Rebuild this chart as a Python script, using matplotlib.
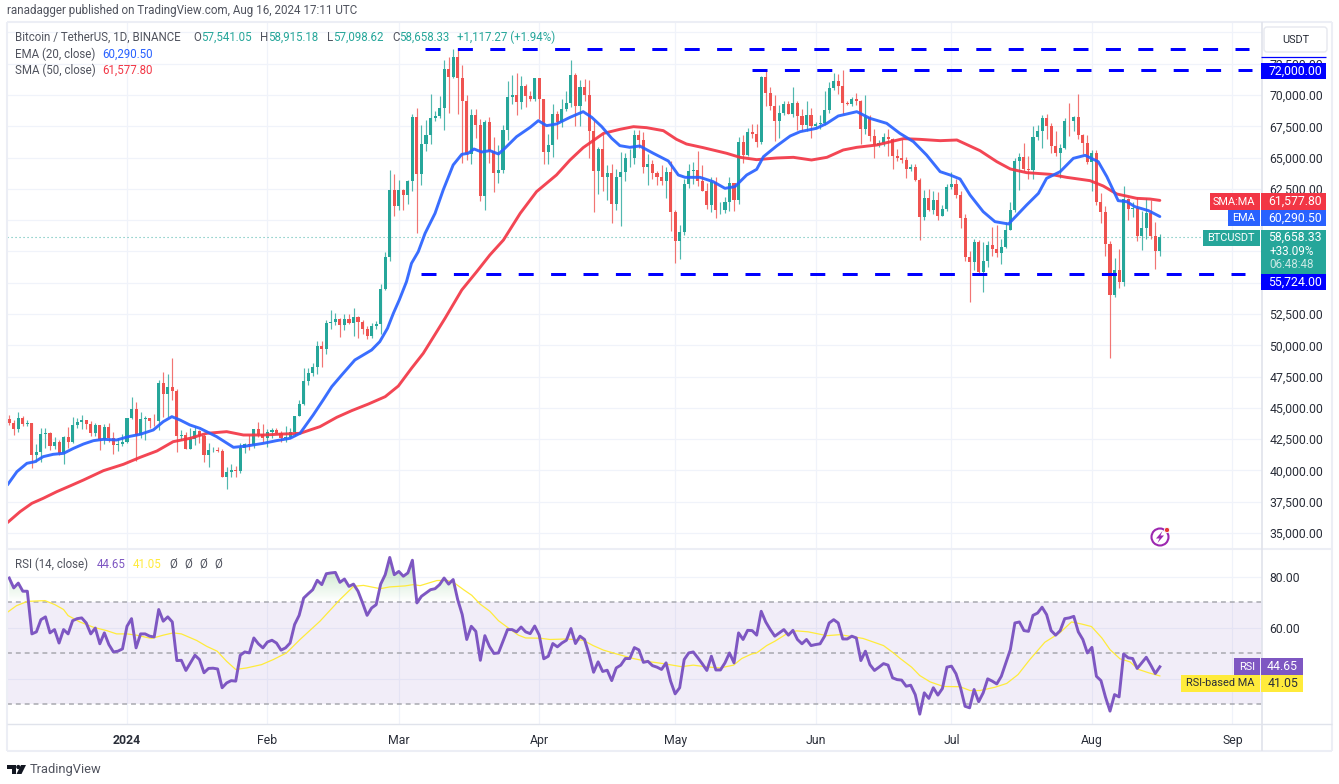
import numpy as np
import pandas as pd
import matplotlib
matplotlib.use("Agg")
import matplotlib.pyplot as plt
from matplotlib.patches import Rectangle, FancyBboxPatch, Circle, Polygon
from matplotlib.path import Path
from matplotlib.collections import LineCollection

plt.rcParams['font.family'] = ['Roboto', 'DejaVu Sans']

# ---------- candle data ----------
first_open = 44080
closes = [
 43790,43292,44183,43720,43792,41243,41450,42890,43022,41940,42278,41374,42657,42271,43652,43868,43997,43739,43016,43613,42520,43442,42581,42066,42140,42283,
 44179,44946,42845,44151,44162,43958,43929,46951,46110,46632,46339,42782,42847,41732,42511,43137,42776,41262,41618,41665,41545,39507,39845,40077,39933,41816,42120,42031,43300,42941,42580,
 43082,43200,42991,42583,42658,43084,44346,45288,47132,47751,48293,49958,49699,51795,51880,52124,51642,52137,51774,52259,51849,51288,50744,51568,51728,54476,57037,62432,61130,
 62387,61987,63113,68245,63724,66074,66823,68124,68313,68955,72051,71452,73072,71388,69499,65300,68393,67609,61937,67840,65501,63796,64037,67211,69880,69988,69455,70744,69892,69645,71333,
 69702,65446,65980,68508,67837,68896,69360,71620,69146,70631,70006,67116,63924,65661,63419,63793,61277,63470,63818,64941,64941,66819,66407,64276,64481,63756,63419,63113,63841,60672,
 58364,59060,62882,63892,64012,63165,62312,61193,63074,60799,60825,61484,62940,61577,66206,65235,67024,66915,66274,71446,70136,69122,67929,68526,69265,68518,69394,68296,67578,68364,67491,
 67706,67751,68804,70567,71082,70757,69342,69305,69648,69508,67321,68243,66747,66006,66191,66639,66490,65140,64960,64828,64096,64245,63180,60277,61781,60824,61612,60320,60887,62678,
 62851,62029,60145,57042,56639,58230,55857,56710,58045,57717,57337,57889,59204,60797,64724,65043,64087,63987,66660,67139,68165,67532,65936,65372,65777,67907,67896,68249,66784,66188,64628,
 65354,61415,60680,58116,53991,56030,55027,61710,60880,60945,58719,59354,60609,58739,57541,58658]
highs = [
 44440,44040,44700,44370,44040,43800,42100,43430,43420,43089,42700,42430,42750,43500,44283,44230,44400,43800,43950,43800,43650,43700,43800,43100,42600,42890,
 44180,45880,45500,44700,44330,44230,44500,47250,47890,47700,48970,46500,43250,43060,43400,43580,43200,42930,42200,41870,41880,41680,40280,40550,40350,42200,42200,42840,43300,43880,43740,
 43300,43420,43380,43120,43530,43400,44390,45600,48200,48170,48590,50330,50370,52040,52820,52570,52170,52480,52500,52980,52370,52020,51550,51820,51950,54900,57490,63980,63680,
 63180,62450,63230,68500,69000,67640,67990,70080,68700,69900,72800,73000,73650,73777,72420,70000,68900,68920,68100,68030,68240,66650,65970,67620,71150,71560,71770,71550,70900,70320,71370,
 71340,69700,66920,69300,68720,69680,70320,72800,71760,71170,71280,71200,68000,65840,66870,64370,64470,64100,65480,65400,65700,67230,67200,67050,65300,64800,63920,64370,64230,64700,
 60780,59600,63320,64500,64650,65500,64400,62990,63450,63450,61490,61820,63450,63000,66670,66800,67400,67700,67700,71500,71979,70630,70000,69220,69560,69500,70600,69560,68900,69500,69000,
 67840,68440,70280,71060,71760,71650,71997,69560,69850,70150,69570,69990,68440,67300,66400,67000,67300,66560,65720,66480,65060,64520,64500,63370,62400,62480,62300,62220,61200,62900,
 63860,63270,62300,60500,57500,58500,58400,58240,58300,59470,59650,58500,59820,61420,65000,65400,66130,65100,67500,67620,68370,68490,67800,67100,66100,68200,69400,68300,70079,66900,66800,
 65600,65600,62150,61100,58300,57000,57700,62730,61770,61450,61850,60700,61800,61580,59850,58915]
lows = [
 43630,42820,43080,43583,43560,40200,40680,40660,41810,41660,41690,41250,40530,41800,42200,43400,43300,43300,42740,42740,41640,42100,42300,41300,41520,41960,
 42180,44150,40750,42630,42450,43420,43570,43200,44300,44300,45600,41500,42440,41700,41700,42050,42200,40680,40280,41500,41500,39440,38555,39480,39480,39820,41390,41620,41800,42680,42300,
 41880,42570,42880,42260,42260,42570,42780,44330,45250,46800,47550,47700,48300,49270,51320,51620,50630,51250,51700,50750,50620,50930,50520,50580,51280,50900,54450,56700,60360,
 60780,60800,61320,62300,59005,62800,65550,66100,67950,68200,67200,68600,71330,68500,64530,64780,64500,66600,61500,60775,64530,62260,63000,63780,66380,69280,68380,68900,69050,69500,69560,
 68060,64490,64500,65080,66510,67450,68720,69040,67500,67520,69560,65000,60660,62130,62300,61600,59770,60780,59560,63100,64240,64500,65800,63800,62800,63300,62800,62810,61800,59120,
 56552,56900,58800,62580,62850,62700,62300,60880,60650,60200,60490,60610,60750,60700,61300,64600,65100,66600,65860,66070,69160,68820,66300,66600,68400,68500,68230,67200,67100,67120,66600,
 67380,67250,67600,68560,70400,70100,68500,69200,69100,69200,66050,66900,66300,64950,65870,65930,65100,64060,64700,64550,63380,63930,63100,58402,60000,60700,60500,60000,60300,60700,
 62500,61800,59400,56770,53485,56000,55720,54260,56290,57160,57050,56500,57760,59250,60630,62430,63900,63250,63300,66400,65800,66500,65400,65100,63400,65700,66700,67100,66500,65300,64500,
 62300,61200,59800,57120,49000,53900,54600,54730,60000,60240,58300,57650,58500,58500,56100,57098]

# ---------- moving averages (day number from 1 Jan 2024, price) ----------
ema_days = [-26.4,-24.3,-22.1,-20.3,-18.5,-16.3,-14,-11.8,-9.6,-7.4,-5.2,-2.3,0.3,2.9,5.8,8,9.9,11.7,13.9,16.1,19.8,23.5,26.4,30.1,33,36,38.2,41.1,43.3,45.2,47.4,50.3,54,55.8,57.5,58.8,60.1,
 61.7,62.8,64.3,65.8,68,69.8,72,73.9,75.3,76.6,78.3,80.1,82,83.4,86,89,90.8,92.6,94.8,97.8,100.7,102.6,104.8,107,108.8,
 111,113.2,116.2,119.5,121.7,123.2,126.5,129.4,132,134.2,136.8,139,140.5,143.4,146.4,148.6,152.2,154.5,157,161.1,164,167.7,170.6,173.6,176.5,179.5,181.7,
 183.9,186.1,189,191.6,194.6,198.6,201.2,203,206,208.9,211.5,214.4,216.3,218.8,220.7,222.5,225.5,228]
ema_vals = [38841,39906,40572,40705,41104,41291,41371,41770,42116,42383,42489,42436,42702,42889,43235,43901,44300,44034,43634,43368,42702,41850,41956,42170,42383,42569,42969,44434,45632,46697,47629,48828,49627,50292,51357,52556,53621,
 55087,56552,57484,58949,60546,62410,64408,65260,65340,65686,65446,65553,65287,65739,66671,67417,67950,67550,67683,68216,68668,68216,67470,66538,65952,
 65819,65926,65340,64727,63609,63422,63422,63076,62543,62677,63609,64061,65073,65926,66724,67071,67337,67736,68322,68668,68136,67736,66937,66272,65206,63875,63608,
 63289,62011,60679,59880,59694,61212,62144,63342,63875,64940,65180,64674,63475,61558,61478,61078,60759,60290]
sma_days = [-26.4,-23.6,-21,-18.5,-15.5,-12.6,-9.6,-5.2,-0.8,2.9,6.6,10.2,13.9,17.6,22,25.7,30.1,34.5,38.2,42.6,46.3,49.6,53.3,57,59.9,62.8,65.4,67.6,70.2,
 73.9,77.2,80.1,83.1,86.8,90.4,94.8,97.8,100.7,105.2,108.8,111.8,114.7,118.4,121.3,123.5,127.2,132.4,135.3,139,143.4,147.1,151.1,154.5,158.1,161.1,165.5,171.4,175,179.5,
 183.2,188.3,192,195,198.6,203.8,207.4,212.6,215.5,218.5,222.9,225.8,228]
sma_vals = [35832,36710,37376,37776,38308,38761,39240,39986,40492,41051,41557,42303,42569,42969,43102,42835,42835,42915,42969,43502,44247,44780,45312,45898,46750,48162,49360,50638,52156,
 54421,55886,57217,58416,60546,62277,63609,64807,65793,66937,67257,67470,67390,67150,66458,66085,65792,65340,65020,64834,64967,65020,64807,65020,65606,65819,66005,66512,66458,66351,
 66405,65552,64674,64088,63795,63662,63422,63156,62730,62091,61744,61691,61578]

# ---------- RSI, one value per day ----------
rsi_vals = [79.6,75.7,77.6,74.4,74.4,57.6,58.4,63.2,64.3,58,59.3,54,59.3,57.6,62.8,63.6,63.9,61.9,57.6,59.9,53.7,58,53.4,50.5,50.8,51.7,
 60.6,63.6,52.1,57.6,57.6,56.7,56.4,67.2,62.6,64.3,62.3,47.1,47.2,43.2,46.2,49.2,47.5,42.3,44,44.1,43.8,36.4,38.3,39.2,39,49.2,50.5,50.1,56,53.7,52.1,
 54.4,55.1,54,51.2,52.1,54,61.3,64.9,71.7,73.4,75,78.7,77,81.3,81.6,81.8,77.9,79.2,76.3,77.2,74.4,69.8,64.9,67.8,69.1,77.2,80.9,87.7,80.9,
 82.2,80.3,81.6,86.6,69.8,72.4,73.7,75,75.4,77,79.6,77.2,79,71.1,65.2,55.4,60.6,58.6,47.2,56.9,52.7,49.9,50.1,54.7,59.3,59.3,58.4,60.3,58.4,57.7,60.7,
 57.1,47.8,48.8,53.8,52.5,54,55.1,59.7,53.8,56.7,55.4,49.5,42.5,46.6,42.8,43.3,39.2,44.2,45.3,47.9,47.9,52.2,51.3,46.4,46.8,45.1,44.5,43.6,46.2,39,
 34,36.4,47.5,50.1,50.5,48.2,45.8,43.2,48.8,43.4,43.4,46.2,50.1,46.2,58,55.4,59,58.9,57.1,66.5,62.3,59.3,56.7,58,59.3,57.1,59,55.4,53.7,55.4,53,
 53.4,53.7,56.7,61.9,63.2,61.9,55.6,55.6,56.7,56,47.1,50.8,45.5,43.2,44.5,45.9,45.3,40.3,39.6,39.4,37,37.4,33.7,26,34.4,32.2,36.4,33.5,36.1,44.5,
 44.9,41.9,36.4,29.1,28.5,35.7,30.9,34.4,39.9,39,37.9,40.9,46.2,51.4,61.9,62.3,58.9,58.6,64.9,65.8,68.1,65.2,58.9,57.1,58.9,63.6,63.9,64.5,58.4,55.4,50.1,
 52.3,40.9,39.2,32.7,27.2,33.7,32.8,49.7,48.2,47.9,44,46.2,48.4,45.3,42,44.65]
rsima_days = [-26.4,-24.4,-22,-18.1,-15.9,-14,-13,-10.4,-7.4,-4.5,-2.3,0,2.1,5.4,8,10.2,12,15.4,17.6,19.9,22,24,26.4,29.7,32.3,35.2,38.2,42.6,47,50,52.2,55.9,58,61.4,63.2,64.7,68.4,70.6,
 72,74.3,76.1,77.9,80.1,82,84.2,86.4,88,91.2,93.4,97,100.7,102.9,105.2,108.1,111.8,114.7,118.4,122.4,125,128,130.9,133.9,135.7,137.9,139,141.2,143,145.6,147.8,150.4,154.5,157.4,162.5,167,169.2,
 170.7,173.2,175,177.3,180.2,183.9,186.1,188.3,191.6,194.2,196.7,199.3,202.6,205.9,208.5,210.7,212.9,215.2,217,219.2,221.4,223.3,225.5,228]
rsima_vals = [66.1,68.7,70.4,70.7,69.1,67.2,64.8,62.3,60.2,58.9,57.6,57.6,57.1,55.8,57.1,58,57.6,55,52.7,50.8,46.8,43.6,44.2,45.5,47.5,50.1,55.4,62.6,71.1,76.3,76.7,75.4,76.1,76.5,77,76.6,78.6,78.7,
 78,75,72.8,69.4,66.5,62.8,59.9,57.1,56,55.9,55.4,55.6,55.1,53,51.2,49.7,47.9,46.8,45.9,44.7,45.3,44.6,44.2,45.3,47.9,49.7,50.1,53,54.7,57.6,58.8,58.4,56.9,57.3,55.8,53,50.1,
 47.9,44.5,41.2,38.7,36.9,36.8,35.3,35.3,36.6,38.1,41.6,47.5,54.3,58,62.3,61.5,60.5,56,51.4,47.8,46.6,43.6,42.3,41.05]

# ---------- levels and axis labels ----------
level_prices = [73650, 72000, 55724]
level_start_days = [65.8, 138, 65.0]
level_end_days = [247.7, 248.4, 246.8]
last_price = 58658.33
price_ticks = list(range(35000, 77500, 2500))
hidden_price_labels = [55000, 57500, 60000, 75000]
rsi_ticks = [40, 60, 80]
hidden_rsi_labels = [40]
rsi_levels = [30, 50, 70]
month_labels = ['2024','Feb','Mar','Apr','May','Jun','Jul','Aug','Sep']
month_dates = ['2024-01-01','2024-02-01','2024-03-01','2024-04-01','2024-05-01','2024-06-01','2024-07-01','2024-08-01','2024-09-01']

GREEN, RED, BLUE, SMA_RED = '#26a69a', '#ef5350', '#2962ff', '#f23645'
PURPLE, YELLOW, LEVEL = '#7e57c2', '#ffeb3b', '#0000ff'
GRID, FRAME, TXT = '#f0f3fa', '#eceef5', '#2a2e39'
SUB = '#50535e'
AX_SIZE = 8.8
LEG_SIZE = 8.3
LAB_SIZE = 7.9

W, H = 1339, 784
fig = plt.figure(figsize=(W/100, H/100), dpi=100, facecolor='white')

def rect(l, t, r, b):
    return [l/W, (H-b)/H, (r-l)/W, (b-t)/H]

ax = fig.add_axes(rect(7, 23, 1262, 548))
rx = fig.add_axes(rect(7, 550, 1262, 724))

start = pd.Timestamp('2024-01-01')
dates = pd.date_range('2023-12-06', '2024-08-16')
days = np.asarray((dates - start).days, dtype=float)
c = np.array(closes, float)
o = np.r_[first_open, c[:-1]]
h = np.array(highs, float)
l = np.array(lows, float)
month_days = [(pd.Timestamp(m) - start).days for m in month_dates]

xlim = (-26.49, 250.55)
PX = 0.012516
for a in (ax, rx):
    a.set_xlim(*xlim)
    a.set_xticks(month_days)
    a.grid(True, color=GRID, lw=0.9, zorder=0)
    a.set_axisbelow(True)
    a.yaxis.tick_right()
    for s in a.spines.values():
        s.set_visible(False)
    a.tick_params(length=0, labelsize=AX_SIZE, labelcolor=TXT)
ax.set_ylim(70000 - (548-95)/PX, 70000 + (95-23)/PX)
rx.set_ylim(30 - 20/2.54, 30 + (704-550)/2.54)

# candles
up = c >= o
cols = np.where(up, GREEN, RED)
ax.add_collection(LineCollection([[(x, a_), (x, b_)] for x, a_, b_ in zip(days, l, h)],
                                 colors=list(cols), linewidths=0.85, alpha=0.8, zorder=2))
ax.bar(days, np.maximum(np.abs(c-o), 40), bottom=np.minimum(o, c), width=0.68, color=list(cols), lw=0, zorder=3)

ax.plot(sma_days, sma_vals, color=SMA_RED, lw=2.1, alpha=0.92, zorder=4, solid_capstyle='round', solid_joinstyle='round')
ax.plot(ema_days, ema_vals, color=BLUE, lw=2.1, alpha=0.92, zorder=5, solid_capstyle='round', solid_joinstyle='round')
for p, s_, e_ in zip(level_prices, level_start_days, level_end_days):
    ax.plot([s_, e_], [p, p], color=LEVEL, lw=2.16, ls=(0, (5.0, 5.8)), dash_capstyle='butt', zorder=6)
ax.plot([xlim[0], 237.5], [last_price]*2, color=GREEN, lw=0.8, ls=(0, (1, 2.6)), alpha=0.75, zorder=2)

ax.set_yticks(price_ticks)
ax.set_yticklabels(['' if p in hidden_price_labels else f'{p:,.2f}' for p in price_ticks])
ax.tick_params(axis='y', pad=5.4)
ax.tick_params(axis='x', labelbottom=False)

# RSI
rsi = np.array(rsi_vals, float)
rx.axhspan(30, 70, color=PURPLE, alpha=0.1, lw=0, zorder=1)
for lv in rsi_levels:
    rx.axhline(lv, color='#a8a9b0', lw=1.1, ls=(0, (3.2, 2.6)), zorder=2)
poly = rx.fill_between(days, 70, rsi, where=rsi > 70, interpolate=True, color='none', lw=0)
grad = np.zeros((64, 2, 4))
grad[..., :3] = matplotlib.colors.to_rgb('#4caf50')
grad[..., 3] = np.linspace(0.38, 0.0, 64)[:, None]
im = rx.imshow(grad, extent=[xlim[0], xlim[1], 70, 88], origin='upper', aspect='auto', zorder=2)
im.set_clip_path(Path.make_compound_path(*poly.get_paths()), transform=rx.transData)
rx.set_xlim(*xlim)
rx.set_ylim(30 - 20/2.54, 30 + (704-550)/2.54)
rx.plot(rsima_days, rsima_vals, color=YELLOW, lw=0.9, zorder=3)
rx.plot(days, rsi, color=PURPLE, lw=2.1, zorder=4)
rx.set_yticks(rsi_ticks)
rx.set_yticklabels(['' if v in hidden_rsi_labels else f'{v:.2f}' for v in rsi_ticks])
rx.tick_params(axis='y', pad=5.4)
rx.set_xticklabels(month_labels)
rx.tick_params(axis='x', pad=7)
rx.get_xticklabels()[0].set_fontweight('bold')

# ---------- pixel overlay for frame, labels and legends ----------
ov = fig.add_axes([0, 0, 1, 1], zorder=10)
ov.set_xlim(0, W)
ov.set_ylim(H, 0)
ov.axis('off')
ov.patch.set_alpha(0)

def box(l_, t, r, b, col):
    ov.add_patch(Rectangle((l_, t), r-l_, b-t, fc=col, ec='none', zorder=2))

def line(x0, y0, x1, y1, col=FRAME, lw=1.5):
    ov.plot([x0, x1], [y0, y1], color=col, lw=lw, zorder=1, solid_capstyle='butt')

def txt(x, y, s, col=TXT, size=LEG_SIZE, ha='left', **kw):
    ov.text(x, y, s, color=col, fontsize=size, ha=ha, va='center', zorder=3, **kw)

# frame
line(6.5, 22, 1332, 22); line(6.5, 751, 1332, 751)
line(6.5, 22, 6.5, 751); line(1332, 22, 1332, 751)
line(6.5, 549, 1332, 549)
line(6.5, 724, 1332, 724, '#e0e3eb', 1.0)
line(1262, 22, 1262, 751, '#e0e3eb', 1.2)

# USDT button
ov.add_patch(FancyBboxPatch((1264, 27), 63, 25, boxstyle='round,pad=0,rounding_size=3', fc='white', ec='#e6e8ef', lw=1, zorder=2))
txt(1295.5, 40, 'USDT', size=LAB_SIZE, ha='center')
line(1261, 57, 1326, 57, LEVEL, 0.9)

# right price labels
box(1261, 63, 1326, 79, LEVEL);  txt(1322, 71, '72,000.00', 'white', AX_SIZE, ha='right')
box(1261, 274, 1326, 290, LEVEL); txt(1322, 282, '55,724.00', 'white', AX_SIZE, ha='right')
box(1210, 193, 1260, 210, SMA_RED); txt(1255, 201.5, 'SMA:MA', 'white', LAB_SIZE, ha='right')
box(1261, 193, 1326, 210, SMA_RED); txt(1322, 201.5, '61,577.80', 'white', AX_SIZE, ha='right')
box(1228, 210, 1260, 226, BLUE); txt(1255, 218, 'EMA', 'white', LAB_SIZE, ha='right')
box(1261, 210, 1326, 226, BLUE); txt(1322, 218, '60,290.50', 'white', AX_SIZE, ha='right')
box(1203, 230, 1260, 246, GREEN); txt(1255, 238, 'BTCUSDT', 'white', LAB_SIZE, ha='right')
box(1261, 230, 1326, 274, GREEN)
txt(1322, 237.5, '58,658.33', 'white', AX_SIZE, ha='right')
txt(1269.5, 251, '+33.09%', 'white', 8.4)
txt(1269.5, 265, '06:48:48', '#c9e8e4', 8.4)

# RSI labels
box(1234, 658, 1260, 675, PURPLE); txt(1255, 666.5, 'RSI', 'white', LAB_SIZE, ha='right')
box(1261, 658, 1303, 675, PURPLE); txt(1298, 666.5, '44.65', 'white', AX_SIZE, ha='right')
box(1181, 675, 1260, 692, YELLOW); txt(1255, 683.5, 'RSI-based MA', TXT, LAB_SIZE, ha='right')
box(1261, 675, 1303, 692, YELLOW); txt(1298, 683.5, '41.05', TXT, AX_SIZE, ha='right')

# header and legends
txt(7, 10.5, 'ranadagger published on TradingView.com, Aug 16, 2024 17:11 UTC', SUB, 8.4)
txt(15, 37, 'Bitcoin / TetherUS, 1D, BINANCE', SUB)
for x, lab, xv, val in [(193, 'O', 201, '57,541.05'), (260, 'H', 268, '58,915.18'),
                        (327, 'L', 333, '57,098.62'), (392, 'C', 399, '58,658.33')]:
    txt(x, 37, lab, SUB)
    txt(xv, 37, val, GREEN)
txt(457, 37, '+1,117.27 (+1.94%)', GREEN)
txt(15, 54, 'EMA (20, close)', SUB); txt(102, 54, '60,290.50', BLUE)
txt(15, 70, 'SMA (50, close)', SUB); txt(102, 70, '61,577.80', SMA_RED)
txt(15, 564, 'RSI (14, close)', SUB)
txt(97, 564, '44.65', PURPLE); txt(133, 564, '41.05', YELLOW)
for x in (169, 184, 199, 214):
    txt(x, 564, 'Ø', SUB)

# lightning icon
ov.add_patch(Circle((1160, 537), 8.5, fc='white', ec='#9c27b0', lw=1.5, zorder=2))
ov.add_patch(Polygon([(1162.5, 531), (1156, 538.5), (1159.5, 538.5), (1157.5, 543), (1164, 535.5), (1160.5, 535.5)],
                     fc='#9c27b0', ec='none', zorder=3))
ov.add_patch(Circle((1167, 530), 2.6, fc='#e53935', ec='white', lw=0.6, zorder=4))

# TradingView logo
ov.add_patch(Polygon([(7, 765), (16, 765), (16, 774), (11.5, 774), (11.5, 769), (7, 769)], fc='#131722', ec='none'))
ov.add_patch(Circle((18.3, 767), 2.1, fc='#131722', ec='none'))
ov.add_patch(Polygon([(21, 765), (26, 765), (21.5, 774), (16.5, 774)], fc='#131722', ec='none'))
txt(30, 769, 'TradingView', SUB, 9.3)

fig.savefig('out.png', dpi=100, facecolor='white')
